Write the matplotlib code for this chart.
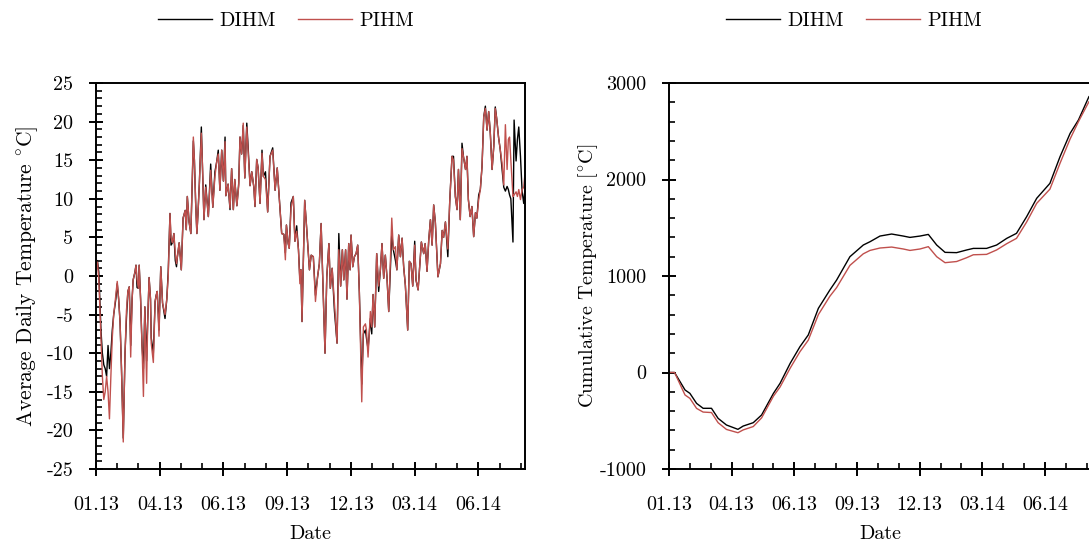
import datetime as dt
import matplotlib
matplotlib.use("Agg")
import matplotlib.pyplot as plt
from matplotlib.ticker import MultipleLocator, FuncFormatter
from matplotlib.lines import Line2D

plt.rcParams["font.family"] = ["cmr10", "DejaVu Serif"]
plt.rcParams["mathtext.fontset"] = "cm"
plt.rcParams["axes.unicode_minus"] = False
plt.rcParams["axes.formatter.use_mathtext"] = True

# days since 01.01.2013
days = [0, 2, 4, 7, 9, 11, 13, 15, 17, 19, 21, 23, 25, 28, 30, 32, 34, 36, 38.5, 41,
        43, 45, 47, 49, 51, 52.5, 55, 56.5, 58, 60, 61, 63, 65, 67, 69, 71.5, 73, 75, 77, 78,
        81, 83.5, 85, 86.5, 89, 91.5, 94, 97.5, 100, 102, 104.5, 106, 108, 110, 112, 113.7, 115, 117.5, 120.5, 123,
        126, 127.5, 129, 131.5, 134, 137.5, 139, 140.8, 142.5, 144, 146, 148.8, 150.5, 152.5, 155, 158.7, 162, 165, 168, 170.5,
        172.7, 175, 177.6, 180, 182.3, 183.4, 186.6, 189.3, 191.6, 194, 196, 199, 201.6, 203.4, 205.7, 208, 210.2, 213, 215, 217.6,
        220, 223, 224.6, 227, 229, 231.7, 234.5, 236.4, 239.4, 242.5, 245.8, 249.6, 253, 256, 259, 262.3, 265.3, 267.5, 269, 271.5,
        273, 275.5, 278.7, 281, 283.5, 286, 288, 289.5, 291, 294.8, 297.5, 301.5, 304, 307, 310, 313, 315.5, 318, 320, 323.5,
        326, 329, 331, 333.6, 336.8, 340.5, 343, 345.6, 348, 350, 352.6, 354.5, 357, 359, 360.3, 362.7, 365, 367.4, 369.7, 372,
        375.4, 377.7, 380.6, 382, 384.3, 387.6, 389.5, 391.4, 393.7, 396.5, 399.3, 401.7, 404, 406.4, 408.7, 411, 413.5, 417.8, 420, 423,
        425, 427.6, 430, 432.4, 434.6, 437, 440.3, 442.6, 445, 447.4, 450.2, 452, 455, 459.6, 462.9, 465, 467.6, 470, 472.4, 474.8,
        477, 479.4, 481.7, 483, 486.6, 489, 491, 493.6, 497, 499.7, 502.9, 505, 507.6, 510, 512, 514.6, 517, 519, 522, 524,
        526, 528.5, 531, 533.5, 536, 538, 540.6, 542.9, 545.3, 547.7, 550, 552.4, 554.7, 557, 559.5, 561.9, 564, 566, 568.6, 571,
        573.5, 576, 578.3, 580.7, 582.5, 584.2, 586, 589, 590.6, 593.4, 595.3, 597.2, 599.6, 601.9, 604.2, 605.7]

pihm_daily = [0.5, 1.8, -0.5, -8, -13, -16, -15, -13, -15, -18.5, -13, -8, -5, -2.5, -0.7, -3, -6, -12, -21.5, -10,
              -4.5, -2, -1.4, -10.5, -3, -0.5, 0.5, 1.4, -0.5, -1.6, 1.4, -3, -9, -15.6, -4, -13.9, -6, -0.2, -3, -8.7,
              -11.2, -3.3, -2.5, -2, -7.8, 1.2, -3.5, -5, -3, -0.1, 8.1, 5, 4.3, 5.5, 3, 1.6, 2.5, 4.3, 0.8, 7.5,
              8.5, 6, 10.3, 7, 5.5, 18, 15, 9.4, 5.5, 8, 12, 18.5, 14, 7.3, 11.5, 7.7, 13.7, 8.9, 12.9, 14.8,
              15.8, 11.1, 16.3, 12.3, 17.4, 10.4, 11.9, 8.8, 13.9, 8.6, 12.5, 9.1, 11.7, 18.0, 15.8, 19.8, 12.7, 19.3, 16.1, 11.7,
              13.5, 11.5, 9, 15.1, 14, 9.4, 15.9, 12.9, 12.5, 8.3, 15.5, 16.3, 11.1, 14, 9.9, 5.5, 5.4, 2.1, 6.6, 4.2,
              3.6, 8.8, 10.3, 4.5, 5.8, 3.4, -1, 0.8, -5.9, 9.8, 6.3, 0.8, 2.7, 2.5, -3.3, -0.1, 1.6, 6.8, 0.8, -10,
              -0.1, 4.2, -1.6, 1, -3.5, -8.7, 3.4, -1.3, 3.4, -0.5, 3.4, -3, 4.2, 0.8, 5.3, 1.2, 2.5, 2.9, 4, -2.1,
              -16.3, -6.6, -6.2, -7, -10.5, -4.6, -6.6, -2.4, -6.6, 2.9, -1.3, 0.8, 4.2, -0.3, 2.7, -0.1, -4.6, 7.5, 3.4, 3.8,
              0.8, 5.3, 2.5, 4.9, 1.2, -1.2, -7, 1.9, 1.6, -1.3, 4, -0.5, -1.8, 4.4, 2.9, 4.2, 0.6, 4.6, 7.3, 4,
              9.2, 6.9, 2.3, -0.1, 1.6, 5.9, 5, 7, 3.5, 9.7, 15.5, 15, 10.3, 8.6, 13.8, 7.3, 16.5, 15.5, 13.8, 15.5,
              9.9, 7.7, 9, 5.1, 8.2, 7.5, 9.9, 11.2, 14.2, 20.6, 21.7, 18.9, 21.3, 18.5, 13.8, 16.8, 21.7, 20.4, 18, 16.4,
              14.7, 11.8, 19.6, 13.8, 17.7, 18, 15, 10.3, 10.5, 10.9, 10.3, 11.2, 9.9, 11.2, 11.5, 13]

dihm_daily = [0.5, 2.0, 0.5, -7, -10, -11.5, -12, -13, -9, -12, -10, -7, -5, -3, -1, -3, -6, -12, -21, -10,
              -5.5, -2, -1.4, -9, -3, -0.5, 0.5, 1.4, -1.5, -1.6, 1.4, -3, -9, -12, -4, -11, -6, -0.2, -3, -8,
              -10, -3.3, -2.5, -2, -7, 1.2, -3.5, -5.5, -3, 0.5, 8.1, 4, 4.3, 5.5, 2, 1.2, 2.5, 4.3, 0.8, 7.5,
              8.5, 6, 10.3, 7, 5.5, 17.5, 15, 9.4, 5.5, 8, 12, 19.3, 14, 7.3, 11.8, 7.7, 14.5, 8.9, 13.5, 14.8,
              16.3, 11.1, 16.3, 12.3, 18.0, 10.4, 11.9, 8.6, 13.9, 8.6, 12.5, 9.1, 12.0, 18.0, 15.8, 19.5, 12.7, 19.8, 16.5, 11.7,
              13.5, 11.5, 9, 15.1, 14, 9.4, 16.3, 12.9, 13.5, 8.3, 15.5, 16.6, 11.1, 14, 9.9, 5.5, 5.4, 3, 6.6, 4.2,
              3.6, 9.5, 10.3, 4.5, 6.5, 3.4, -0.5, 0.8, -5.9, 9.8, 6.3, 0.8, 2.7, 2.5, -2.5, -0.1, 1.6, 6.8, 0.8, -10,
              -0.1, 4.2, -1.6, 1, -4.5, -8.7, 5.5, -1.3, 3.4, -0.5, 3.4, -3, 4.2, 0.8, 5.3, 1.2, 2.5, 2.9, 4, -2.1,
              -14, -7.5, -7, -8, -9.5, -5.5, -7.5, -2.4, -6.6, 2.9, -2, 0.8, 4.2, -0.3, 2.7, -0.1, -4.6, 5.5, 3.4, 2,
              0.8, 5.3, 2.5, 4.9, 1.2, -1.2, -7, 1.9, 1.6, -1.3, 4.5, -0.5, -1.8, 4.4, 2.9, 4.2, 0.6, 4.6, 7.3, 4,
              9.2, 6.9, 2.3, -0.1, 1.6, 5.9, 5, 7, 2.5, 9.7, 15.5, 15.5, 10.3, 8.6, 13.8, 7.3, 17.2, 15.5, 13.8, 15.5,
              9.9, 7.7, 9, 5.1, 8.2, 7.5, 10.5, 11.2, 14.2, 20.6, 22.0, 18.9, 21.3, 18.5, 13.8, 16.8, 21.9, 20.4, 18, 16.4,
              14.0, 11.5, 11, 11.6, 11.2, 10.5, 10, 4.4, 20.2, 14.9, 17.7, 19.3, 15.5, 11, 9.4, 11]

cum_days = [0, 8, 23, 30, 39.6, 49, 61, 70.5, 82.5, 99, 106.5, 121, 133, 150, 159.5, 174, 188, 200, 214.5, 231,
            240.7, 259.8, 279, 288.6, 303, 319.7, 336.4, 346, 360.5, 372.4, 384.4, 396.4, 413, 427.6, 437, 456, 470.5, 485, 499, 513.6,
            528, 547, 561.5, 576, 588, 603]
dihm_cum = [0, 0, -181, -216, -320, -371, -371, -475, -544, -589, -555, -520, -440, -216, -112, 95, 267, 389, 665, 855,
            958, 1200, 1321, 1355, 1414, 1435, 1414, 1400, 1414, 1431, 1321, 1245, 1242, 1270, 1286, 1286, 1321, 1390, 1442, 1615,
            1805, 1960, 2236, 2478, 2617, 2858]
pihm_cum = [0, 0, -233, -268, -372, -410, -415, -520, -590, -624, -595, -560, -470, -245, -150, 45, 215, 335, 600, 790,
            880, 1110, 1230, 1265, 1290, 1300, 1280, 1265, 1280, 1304, 1200, 1138, 1150, 1190, 1220, 1224, 1270, 1335, 1390, 1560,
            1753, 1900, 2168, 2420, 2600, 2806]

start = dt.date(2013, 1, 1)
black = "#000000"
red = "#c0504d"
fs = 14.5


def date_fmt(v, pos):
    return (start + dt.timedelta(days=int(round(v)))).strftime("%m.%y")


def style_axes(ax):
    ax.set_xlim(0, 606)
    ax.xaxis.set_major_locator(MultipleLocator(90))
    ax.xaxis.set_minor_locator(MultipleLocator(30))
    ax.xaxis.set_major_formatter(FuncFormatter(date_fmt))
    ax.yaxis.set_major_formatter(FuncFormatter(lambda v, p: f"{v:.0f}"))
    ax.tick_params(which="major", direction="inout", length=10.5, width=1.4,
                   labelsize=fs, top=False, right=False)
    ax.tick_params(which="minor", direction="in", length=4.5, width=1.2,
                   top=False, right=False)
    ax.tick_params(axis="x", which="major", pad=14)
    ax.tick_params(axis="y", which="major", pad=11)
    for s in ax.spines.values():
        s.set_linewidth(1.4)
    ax.set_xlabel("Date", fontsize=fs, labelpad=8)


fig = plt.figure(figsize=(10.89, 5.44), dpi=100)
ax1 = fig.add_axes([96 / 1089, 75 / 544, 429 / 1089, 386 / 544])
ax2 = fig.add_axes([669 / 1089, 75 / 544, 422 / 1089, 386 / 544])

ax1.plot(days, dihm_daily, color=black, lw=1.0)
ax1.plot(days, pihm_daily, color=red, lw=1.0)
style_axes(ax1)
ax1.set_ylim(-25, 25)
ax1.yaxis.set_major_locator(MultipleLocator(5))
ax1.yaxis.set_minor_locator(MultipleLocator(1))
ax1.set_ylabel(r"Average Daily Temperature $^{\circ}$C]", fontsize=15.5, labelpad=5)

ax2.plot(cum_days, dihm_cum, color=black, lw=1.0)
ax2.plot(cum_days, pihm_cum, color=red, lw=1.0)
style_axes(ax2)
ax2.set_ylim(-1000, 3000)
ax2.yaxis.set_major_locator(MultipleLocator(1000))
ax2.yaxis.set_minor_locator(MultipleLocator(200))
ax2.set_ylabel(r"Cumulative Temperature [$^{\circ}$C]", fontsize=fs, labelpad=0)

handles = [Line2D([], [], color=black, lw=1.0), Line2D([], [], color=red, lw=1.0)]
for cx in (286 / 1089, 854 / 1089):
    fig.legend(handles, ["DIHM", "PIHM"], loc="center", bbox_to_anchor=(cx, 1 - 21 / 544),
               ncol=2, frameon=False, fontsize=fs, handlelength=2.7,
               handletextpad=0.35, columnspacing=1.1)

fig.savefig("out.png", dpi=100)
